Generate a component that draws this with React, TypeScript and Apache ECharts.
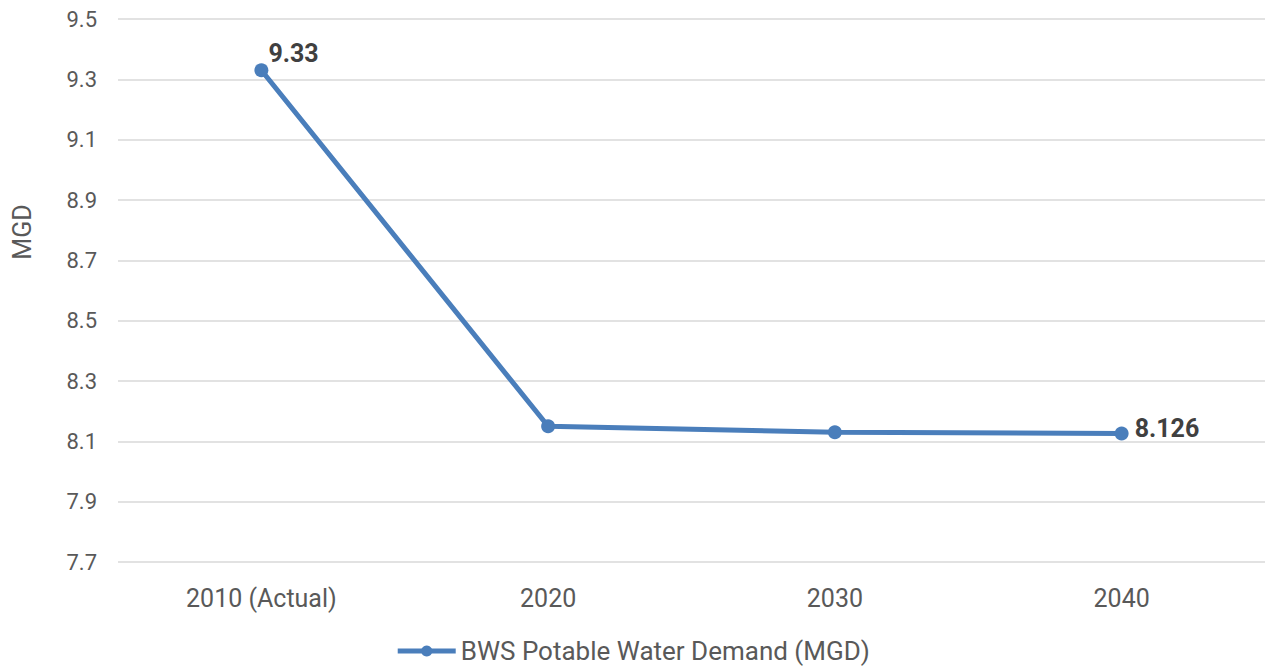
import React, { useEffect, useRef } from "react";
import * as echarts from "echarts";

const categories = ["2010 (Actual)", "2020", "2030", "2040"];
const demand = [9.33, 8.15, 8.13, 8.126];
const seriesName = "BWS Potable Water Demand (MGD)";
const yMin = 7.7;
const yMax = 9.5;
const yStep = 0.2;

const FONT = "Roboto, 'DejaVu Sans', sans-serif";

export default function App() {
  const ref = useRef<HTMLDivElement>(null);
  useEffect(() => {
    if (!ref.current) return;
    const chart = echarts.init(ref.current, null, { renderer: "svg" });
    const labelled = new Set([0, demand.length - 1]);
    chart.setOption({
      animation: false,
      backgroundColor: "#ffffff",
      textStyle: { fontFamily: FONT },
      grid: { left: 118, right: 0, top: 19, bottom: 107, containLabel: false },
      legend: {
        data: [seriesName],
        bottom: 0,
        left: "center",
        itemWidth: 58,
        itemHeight: 14,
        itemGap: 4,
        lineStyle: { width: 5 },
        textStyle: { color: "#595959", fontSize: 26, fontFamily: FONT },
      },
      graphic: [
        {
          type: "text",
          x: 22,
          y: 232,
          rotation: Math.PI / 2,
          style: {
            text: "MGD",
            fill: "#595959",
            fontSize: 25,
            fontFamily: FONT,
            align: "center",
            verticalAlign: "middle",
          },
        },
      ],
      xAxis: {
        type: "category",
        data: categories,
        boundaryGap: true,
        axisLine: { show: false },
        axisTick: { show: false },
        axisLabel: { color: "#595959", fontSize: 25, margin: 24, fontFamily: FONT },
      },
      yAxis: {
        type: "value",
        min: yMin,
        max: yMax,
        interval: yStep,
        axisLine: { show: false },
        axisTick: { show: false },
        axisLabel: {
          color: "#595959",
          fontSize: 22,
          margin: 21,
          fontFamily: FONT,
          formatter: (v: number) => v.toFixed(1),
        },
        splitLine: { lineStyle: { color: "#d9d9d9", width: 1.5 } },
      },
      series: [
        {
          name: seriesName,
          type: "line",
          data: demand.map((v, i) => ({
            value: v,
            label: labelled.has(i)
              ? {
                  show: true,
                  position: "right",
                  distance: i === 0 ? 0 : 6,
                  offset: i === 0 ? [0, -17] : [0, -5],
                  color: "#404040",
                  fontWeight: "bold",
                  fontSize: 25,
                  fontFamily: FONT,
                  formatter: () => String(v),
                }
              : { show: false },
          })),
          symbol: "circle",
          symbolSize: 14,
          lineStyle: { color: "#4a7ebb", width: 5 },
          itemStyle: { color: "#4a7ebb" },
        },
      ],
    });
    return () => chart.dispose();
  }, []);
  return (
    <div
      ref={ref}
      style={{ position: "fixed", left: 0, top: 0, width: 1265, height: 669 }}
    />
  );
}
